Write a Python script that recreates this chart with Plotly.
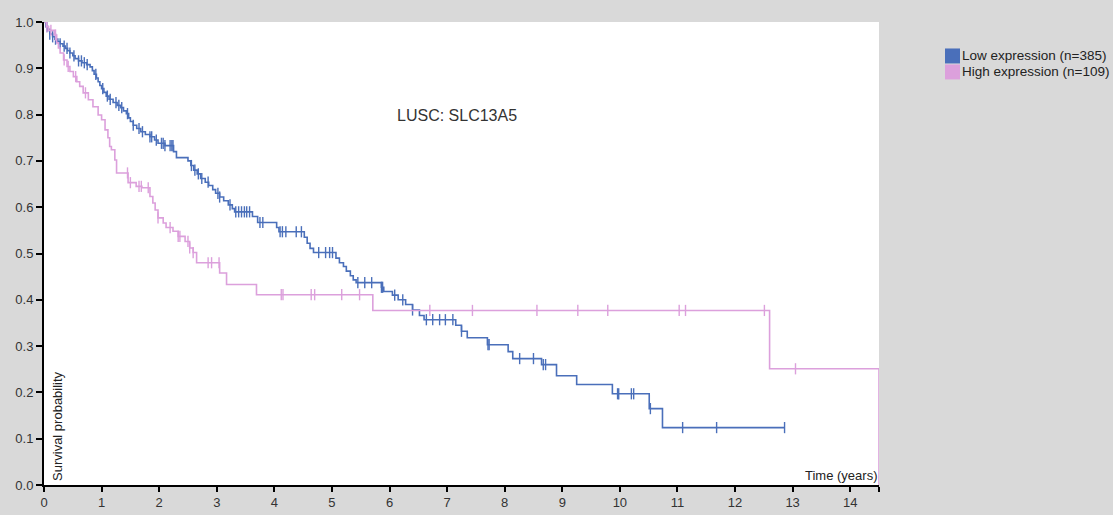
import numpy as np
import plotly.graph_objects as go

# ---- data ----
low_label = "Low expression (n=385)"
high_label = "High expression (n=109)"
title_text = "LUSC: SLC13A5"

low_t = [0, 0.03, 0.07, 0.10, 0.15, 0.19, 0.24, 0.28, 0.33, 0.37, 0.41, 0.45, 0.50, 0.54,
         0.60, 0.66, 0.74, 0.80, 0.84, 0.87, 0.91, 0.94, 0.97, 1.00, 1.04, 1.08, 1.13, 1.20,
         1.27, 1.33, 1.38, 1.43, 1.47, 1.50, 1.55, 1.61, 1.68, 1.76, 1.84, 1.92, 1.98, 2.10,
         2.25, 2.30, 2.50, 2.55, 2.60, 2.66, 2.72, 2.80, 2.86, 2.93, 2.98, 3.05, 3.12, 3.20,
         3.27, 3.31, 3.62, 3.71, 4.04, 4.08, 4.52, 4.57, 4.62, 4.68, 5.07, 5.13, 5.20, 5.25,
         5.32, 5.37, 5.42, 5.86, 5.90, 6.05, 6.15, 6.28, 6.40, 6.52, 6.60, 7.15, 7.25, 7.35,
         7.70, 8.06, 8.14, 8.64, 8.90, 9.25, 9.87, 10.51, 10.74, 12.86]
low_s = [1.0, 0.990, 0.982, 0.974, 0.968, 0.963, 0.958, 0.953, 0.948, 0.943, 0.938, 0.933, 0.927, 0.921,
         0.916, 0.912, 0.908, 0.903, 0.895, 0.887, 0.879, 0.871, 0.863, 0.856, 0.848, 0.840, 0.833, 0.826,
         0.820, 0.815, 0.808, 0.802, 0.793, 0.785, 0.777, 0.770, 0.763, 0.757, 0.752, 0.745, 0.738, 0.733,
         0.720, 0.707, 0.700, 0.690, 0.680, 0.672, 0.662, 0.654, 0.647, 0.638, 0.630, 0.622, 0.614, 0.605,
         0.597, 0.590, 0.580, 0.567, 0.556, 0.547, 0.535, 0.522, 0.511, 0.502, 0.490, 0.480, 0.472, 0.462,
         0.452, 0.443, 0.437, 0.427, 0.418, 0.410, 0.400, 0.390, 0.378, 0.366, 0.357, 0.345, 0.332, 0.318,
         0.303, 0.288, 0.273, 0.260, 0.236, 0.217, 0.197, 0.165, 0.124, 0.124]
low_censor = [0.05, 0.10, 0.15, 0.20, 0.28, 0.35, 0.40, 0.45, 0.52, 0.60, 0.65, 0.70, 0.75, 0.90,
              1.02, 1.10, 1.15, 1.25, 1.30, 1.35, 1.45, 1.55, 1.65, 1.71, 1.84, 1.87, 1.95, 2.04,
              2.07, 2.10, 2.19, 2.22, 2.24, 2.56, 2.62, 2.68, 2.74, 2.85, 3.02, 3.05, 3.23, 3.33,
              3.38, 3.43, 3.48, 3.52, 3.57, 3.75, 3.80, 4.10, 4.14, 4.20, 4.38, 4.47, 4.77, 4.89,
              4.96, 5.01, 5.45, 5.57, 5.69, 5.86, 5.88, 6.09, 6.23, 6.40, 6.64, 6.75, 6.87, 6.97,
              7.10, 7.25, 7.71, 7.73, 8.26, 8.50, 8.67, 8.71, 9.96, 9.98, 10.20, 10.24, 10.53,
              11.09, 11.68, 12.86]

high_t = [0, 0.04, 0.08, 0.18, 0.22, 0.25, 0.28, 0.34, 0.40, 0.45, 0.51, 0.57, 0.62, 0.68,
          0.77, 0.85, 0.94, 1.00, 1.06, 1.11, 1.14, 1.17, 1.23, 1.26, 1.46, 1.60, 1.70, 1.84,
          1.89, 1.93, 1.98, 2.07, 2.12, 2.24, 2.33, 2.45, 2.53, 2.59, 2.65, 3.05, 3.17, 3.69,
          5.71, 12.60, 14.50]
high_s = [1.0, 0.990, 0.982, 0.972, 0.955, 0.944, 0.933, 0.918, 0.904, 0.893, 0.882, 0.871, 0.861, 0.847,
          0.832, 0.817, 0.799, 0.789, 0.767, 0.750, 0.731, 0.724, 0.702, 0.674, 0.653, 0.645, 0.642, 0.623,
          0.609, 0.594, 0.577, 0.566, 0.556, 0.548, 0.537, 0.526, 0.512, 0.502, 0.480, 0.458, 0.433, 0.411,
          0.377, 0.251, 0.0]
high_censor = [0.05, 0.12, 0.20, 0.35, 0.42, 0.55, 0.72, 1.45, 1.50, 1.65, 1.69, 1.81, 1.98, 2.19,
               2.33, 2.36, 2.50, 2.53, 2.59, 2.85, 2.91, 3.04, 4.12, 4.15, 4.64, 4.70, 5.17, 5.48,
               6.70, 7.44, 8.56, 9.27, 9.79, 11.03, 11.14, 12.51, 13.05]

x_ticks = list(range(0, 15))
y_ticks = [round(0.1 * i, 1) for i in range(11)]

BLUE = "#4a6fba"
PINK = "#dca0dc"
BG = "#d9d9d9"
FONT = "Arial, Liberation Sans, sans-serif"


def surv_at(times, surv, pts):
    t = np.asarray(times)
    s = np.asarray(surv)
    idx = np.searchsorted(t, np.asarray(pts), side="right") - 1
    return s[np.clip(idx, 0, len(s) - 1)]


fig = go.Figure()
for t, s, c, col, name in [(low_t, low_s, low_censor, BLUE, low_label),
                           (high_t, high_s, high_censor, PINK, high_label)]:
    fig.add_trace(go.Scatter(x=t, y=s, mode="lines", line=dict(color=col, width=1.6, shape="hv"),
                             name=name, showlegend=False, hoverinfo="skip"))
    fig.add_trace(go.Scatter(x=c, y=surv_at(t, s, c), mode="markers",
                             marker=dict(symbol="line-ns", size=8, line=dict(color=col, width=1.4)),
                             name=name, showlegend=False, hoverinfo="skip"))

fig.update_layout(
    width=1113, height=515,
    margin=dict(l=44, r=234, t=22, b=30),
    paper_bgcolor=BG, plot_bgcolor="white",
    font=dict(family=FONT, size=13, color="#333"),
    showlegend=False,
)
fig.update_xaxes(range=[0, 14.5], tickvals=x_ticks + [14.5], ticktext=[str(v) for v in x_ticks] + [""],
                 showgrid=False, zeroline=False, showline=True, linecolor="black", linewidth=1.5,
                 ticks="outside", ticklen=5, tickwidth=1.5, tickcolor="black",
                 tickfont=dict(size=13, color="#333"), automargin=False)
fig.update_yaxes(range=[0, 1.0], tickvals=y_ticks, ticktext=[f"{v:.1f}" for v in y_ticks],
                 showgrid=False, zeroline=False, showline=True, linecolor="black", linewidth=2,
                 ticks="outside", ticklen=6, tickwidth=1.5, tickcolor="black",
                 tickfont=dict(size=13, color="#333"), automargin=False)

# title inside plot
fig.add_annotation(text=title_text, xref="paper", yref="paper", x=0.495, y=0.82,
                   showarrow=False, font=dict(size=16, color="#333", family=FONT))
# axis labels inside plot
fig.add_annotation(text="Survival probability", xref="paper", yref="paper", x=0.004, y=0.004,
                   xanchor="left", yanchor="bottom", textangle=-90, showarrow=False,
                   font=dict(size=13, color="#222", family=FONT))
fig.add_annotation(text="Time (years)", xref="paper", yref="paper", x=1.0, y=0.0,
                   xanchor="right", yanchor="bottom", showarrow=False,
                   font=dict(size=13, color="#222", family=FONT))

# legend (manual, to match swatch/text spacing)
for i, (lab, col) in enumerate([(low_label, BLUE), (high_label, PINK)]):
    yc = 56 + 16 * i
    fig.add_shape(type="rect", xref="paper", yref="paper",
                  x0=(945 - 44) / 835, x1=(960 - 44) / 835,
                  y0=(485.5 - (yc + 7.5)) / 463.5, y1=(485.5 - (yc - 7.5)) / 463.5,
                  fillcolor=col, line=dict(width=0))
    fig.add_annotation(text=lab, xref="paper", yref="paper", x=(960 - 44) / 835,
                       y=(485.5 - yc) / 463.5, xanchor="left", yanchor="middle", showarrow=False,
                       font=dict(size=13.5, color="#222", family=FONT))

page_fix = ("document.body.style.margin='0';document.body.style.padding='0';"
            "document.body.style.overflow='hidden';document.body.style.background='" + BG + "';")
fig.write_html("out.html", post_script=page_fix, config={"displayModeBar": False})
